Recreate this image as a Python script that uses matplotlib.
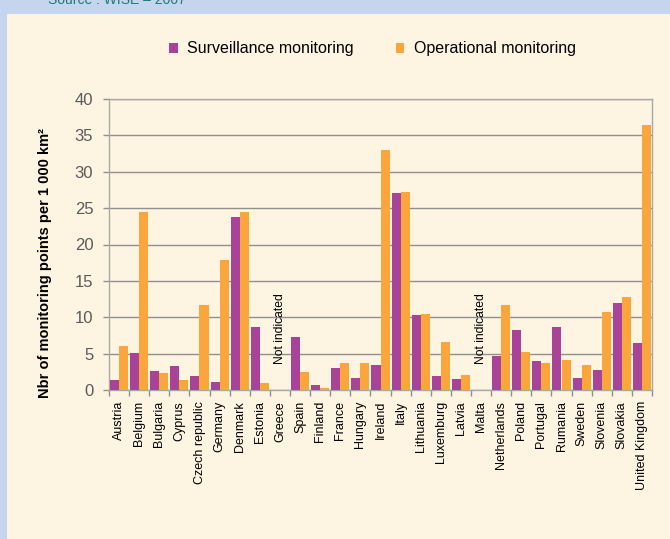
import matplotlib
matplotlib.use("Agg")
import matplotlib.pyplot as plt
import numpy as np

plt.rcParams['font.family'] = ['Liberation Sans', 'DejaVu Sans']

countries = ["Austria", "Belgium", "Bulgaria", "Cyprus", "Czech republic", "Germany",
             "Denmark", "Estonia", "Greece", "Spain", "Finland", "France", "Hungary",
             "Ireland", "Italy", "Lithuania", "Luxemburg", "Latvia", "Malta",
             "Netherlands", "Poland", "Portugal", "Rumania", "Sweden", "Slovenia",
             "Slovakia", "United Kingdom"]
surveillance = [1.4, 5.1, 2.6, 3.3, 1.9, 1.1, 23.8, 8.7, np.nan, 7.3, 0.7, 3.0, 1.65,
                3.4, 27.1, 10.3, 1.9, 1.5, np.nan, 4.7, 8.25, 4.0, 8.7, 1.65, 2.75,
                12.0, 6.5]
operational = [6.05, 24.4, 2.35, 1.4, 11.7, 17.9, 24.5, 0.95, np.nan, 2.5, 0.3, 3.7,
               3.7, 33.0, 27.2, 10.45, 6.6, 2.05, np.nan, 11.7, 5.2, 3.7, 4.1, 3.4,
               10.7, 12.8, 36.4]
not_indicated = ["Greece", "Malta"]
series_names = ["Surveillance monitoring", "Operational monitoring"]
yticks = [0, 5, 10, 15, 20, 25, 30, 35, 40]

purple = "#A84398"
orange = "#FAA63C"
cream = "#FEF4E2"
blue = "#C5D5EE"
grid = "#8F8F8F"

fig = plt.figure(figsize=(6.7, 5.39), dpi=100)
fig.patch.set_facecolor(blue)

bg = fig.add_axes([7/670, 0, 1 - 7/670, 1 - 14/539], zorder=0)
bg.set_facecolor(cream)
bg.set_axis_off()
bg.add_patch(plt.Rectangle((0, 0), 1, 1, transform=bg.transAxes,
                           facecolor=cream, edgecolor='none'))

fig.text(48/670, 1 - 4/539, "Source : WISE \u2013 2007", color="#1F7A78",
         fontsize=10, va='baseline', ha='left')

ax = fig.add_axes([109/670, 1 - 390/539, (652 - 109)/670, (390 - 99)/539], zorder=2)
ax.set_facecolor(cream)
x = np.arange(len(countries))
w = 0.45
ax.bar(x - w/2, surveillance, w, color=purple, label=series_names[0], zorder=3)
ax.bar(x + w/2, operational, w, color=orange, label=series_names[1], zorder=3)

for c in not_indicated:
    i = countries.index(c)
    ax.text(i, 3.6, "Not indicated", rotation=90, ha='center', va='bottom',
            fontsize=8.75, color='black', zorder=4)

ax.set_xlim(-0.5, len(countries) - 0.5)
ax.set_ylim(0, 40)
ax.set_yticks(yticks)
ax.tick_params(axis='y', labelsize=12, labelcolor='#5A5A5A', color=grid,
               length=4.3, width=1, pad=7)
ax.yaxis.grid(True, color=grid, linewidth=1, zorder=0)
ax.set_axisbelow(True)

ax.set_xticks(x)
ax.set_xticklabels(countries, rotation=90, fontsize=9)
ax.tick_params(axis='x', length=0, pad=8)
ax.set_xticks(np.arange(-0.5, len(countries), 1), minor=True)
ax.tick_params(axis='x', which='minor', length=4, color=grid, width=1)

for s in ax.spines.values():
    s.set_color("#A8A8A8")
    s.set_linewidth(1)

fig.text(45/670, 1 - 263/539, "Nbr of monitoring points per 1 000 km²",
         rotation=90, ha='center', va='center', fontsize=10.5, fontweight='bold')

leg = fig.legend(loc='center', bbox_to_anchor=(372.5/670, 1 - 49/539), ncol=2,
                 frameon=False, fontsize=11.5, handlelength=0.55, handleheight=0.55,
                 columnspacing=2.6, handletextpad=0.6)

fig.savefig("out.png", dpi=100, facecolor=fig.get_facecolor())
